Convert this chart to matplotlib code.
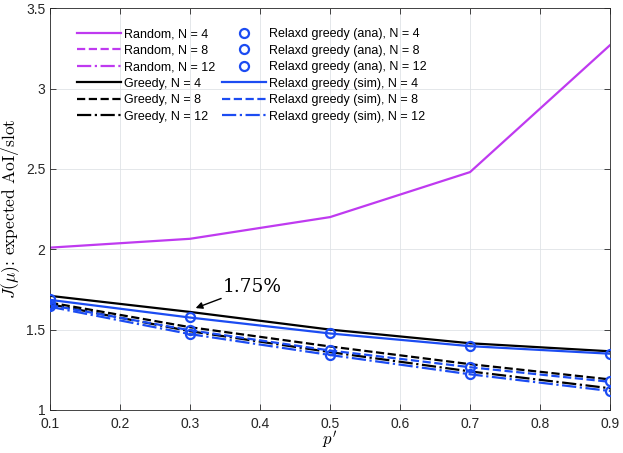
"""Expected AoI per slot versus p' for the scheduling policies."""

import matplotlib
matplotlib.use("Agg")
import matplotlib.pyplot as plt
from matplotlib.ticker import FormatStrFormatter, FuncFormatter

plt.rcParams["font.family"] = ["Liberation Sans", "DejaVu Sans"]
plt.rcParams["mathtext.fontset"] = "cm"

PURPLE = "#bf3af0"
BLUE = "#1c4cf2"
BLACK = "#000000"

p_vals = [0.1, 0.3, 0.5, 0.7, 0.9]

# Random policy (N = 8 and 12 sit above the visible range)
random_4 = [2.01, 2.065, 2.20, 2.48, 3.27]
random_8 = [4.05, 4.15, 4.45, 5.0, 6.6]
random_12 = [6.1, 6.25, 6.7, 7.5, 9.9]

# Greedy policy
greedy_4 = [1.71, 1.61, 1.50, 1.415, 1.365]
greedy_8 = [1.668, 1.515, 1.395, 1.285, 1.19]
greedy_12 = [1.658, 1.49, 1.36, 1.24, 1.135]

# Relaxed greedy, analytical
ana_4 = [1.69, 1.58, 1.48, 1.40, 1.35]
ana_8 = [1.658, 1.50, 1.375, 1.27, 1.178]
ana_12 = [1.645, 1.475, 1.345, 1.225, 1.12]

# Relaxed greedy, simulation
sim_4 = [1.685, 1.575, 1.476, 1.397, 1.35]
sim_8 = [1.652, 1.496, 1.37, 1.266, 1.175]
sim_12 = [1.642, 1.472, 1.342, 1.222, 1.118]

fig = plt.figure(figsize=(6.23, 4.53), dpi=100)
ax = fig.add_axes([0.0803, 0.095, 0.8989, 0.887])

lw = 1.6
ax.plot(p_vals, random_4, color=PURPLE, lw=lw, ls="-", label="Random, N = 4")
ax.plot(p_vals, random_8, color=PURPLE, lw=lw, ls="--", label="Random, N = 8")
ax.plot(p_vals, random_12, color=PURPLE, lw=lw, ls="-.", label="Random, N = 12")
ax.plot(p_vals, greedy_4, color=BLACK, lw=lw, ls="-", label="Greedy, N = 4")
ax.plot(p_vals, greedy_8, color=BLACK, lw=lw, ls="--", label="Greedy, N = 8")
ax.plot(p_vals, greedy_12, color=BLACK, lw=lw, ls="-.", label="Greedy, N = 12")

for vals, n in [(ana_4, 4), (ana_8, 8), (ana_12, 12)]:
    ax.plot(p_vals, vals, ls="none", marker="o", ms=6.5, mfc="none",
            mec=BLUE, mew=1.6, label=f"Relaxd greedy (ana), N = {n}", zorder=4)

ax.plot(p_vals, sim_4, color=BLUE, lw=lw, ls="-", label="Relaxd greedy (sim), N = 4")
ax.plot(p_vals, sim_8, color=BLUE, lw=lw, ls="--", label="Relaxd greedy (sim), N = 8")
ax.plot(p_vals, sim_12, color=BLUE, lw=lw, ls="-.", label="Relaxd greedy (sim), N = 12")

ax.set_xlim(0.1, 0.9)
ax.set_ylim(1, 3.5)
ax.set_xticks([0.1, 0.2, 0.3, 0.4, 0.5, 0.6, 0.7, 0.8, 0.9])
ax.set_yticks([1, 1.5, 2, 2.5, 3, 3.5])
ax.xaxis.set_major_formatter(FormatStrFormatter("%g"))
ax.yaxis.set_major_formatter(FuncFormatter(lambda v, _: f"{v:g}"))
ax.tick_params(direction="in", top=True, right=True, labelsize=10,
               length=4, width=0.6, colors="#262626")
ax.tick_params(axis="x", pad=5)
ax.grid(True, color="#dfe3e6", lw=0.6)
for s in ax.spines.values():
    s.set_color("#262626")
    s.set_linewidth(0.6)

ax.set_xlabel(r"$p'$", fontsize=12, labelpad=-1)
ax.set_ylabel(r"$J(\mu)$: expected AoI/slot", fontsize=12.5, labelpad=3,
              family=["cmr10", "DejaVu Serif"])

ax.annotate("1.75%", xy=(0.308, 1.634), xytext=(0.347, 1.767),
            fontsize=13.3, family="DejaVu Serif", va="center", ha="left",
            arrowprops=dict(arrowstyle="-|>", color="black", lw=1.0,
                            mutation_scale=10, shrinkA=0, shrinkB=0))

ax.legend(loc="upper left", bbox_to_anchor=(0.04, 0.963), ncol=2, frameon=False,
          fontsize=9, handlelength=3.45, handletextpad=0.25, columnspacing=0.6,
          labelspacing=0.36, borderaxespad=0)

fig.savefig("out.png", dpi=100)
